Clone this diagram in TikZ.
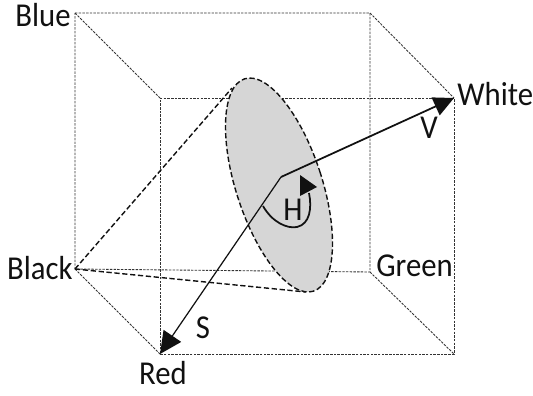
\documentclass[tikz,border=0pt]{standalone}
\usepackage{fontspec}
\setmainfont[FakeStretch=0.92]{Carlito}
\usetikzlibrary{arrows.meta,calc,positioning}
\definecolor{ink}{HTML}{111111}
\definecolor{edge}{HTML}{333333}
\definecolor{disc}{HTML}{D6D6D6}
\tikzset{
  cubeedge/.style={edge,line width=0.5pt,dash pattern=on 1.4pt off 0.7pt},
  conedge/.style={ink,line width=0.8pt,dash pattern=on 3pt off 1.5pt},
  axislabel/.style={font=\fontsize{19}{19}\selectfont,text=ink,inner sep=0pt},
}
\begin{document}
\begin{tikzpicture}[x=0.02cm,y=-0.02cm]
        \useasboundingbox (0,0) rectangle (533,395);
        \coordinate (blue) at (75,13);
        \coordinate (back) at (370,13);
        \coordinate (red) at (160,354);
        \coordinate (front) at (454,354);
        \coordinate (top) at (160,98);
        \coordinate (white) at (454,98);
        \coordinate (black) at (75,269);
        \coordinate (green) at (370,272);
        \coordinate (mid) at (281,177);
        \coordinate (tanup) at (232,88);
        \coordinate (tanlow) at (306,292);
        \draw[cubeedge] (blue) -- (back) -- (green) -- (black) -- cycle;
        \draw[cubeedge] (top) -- (white) -- (front) -- (red) -- cycle;
        \draw[cubeedge] (blue) -- (top);
        \draw[cubeedge] (back) -- (white);
        \draw[cubeedge] (black) -- (red);
        \draw[cubeedge] (green) -- (front);
        \draw[conedge,fill=disc] (279,185) ellipse[x radius=43,y radius=111.6,rotate=18];
        \draw[conedge] (black) -- (tanup);
        \draw[conedge] (black) -- (tanlow);
        \draw[ink,line width=0.7pt,-{Triangle[length=12.5pt,width=12pt]}] (mid) -- (red);
        \draw[ink,line width=1pt,-{Triangle[length=11.5pt,width=11pt]}] (mid) -- (white);
        \draw[ink,line width=1pt] (263,206) .. controls (272,222) and (287,229) .. (297,227) .. controls (310,224) and (312,208) .. (309,193);
        \fill[ink] (300,175) -- (317,187) -- (300,196) -- cycle;
        \node[axislabel,anchor=east] (lblue) at (71,15) {Blue};
        \node[axislabel,anchor=west] (lwhite) at (457,94) {White};
        \node[axislabel,anchor=east] (lblack) at (73,268) {Black};
        \node[axislabel,anchor=west] (lgreen) at (376,266) {Green};
        \node[axislabel] (lred) at (163,373) {Red};
        \node[axislabel] (ls) at (203,328) {S};
        \node[axislabel] (lv) at (429,128) {V};
        \node[axislabel] (lh) at (293,210) {H};
      \end{tikzpicture}
\end{document}
